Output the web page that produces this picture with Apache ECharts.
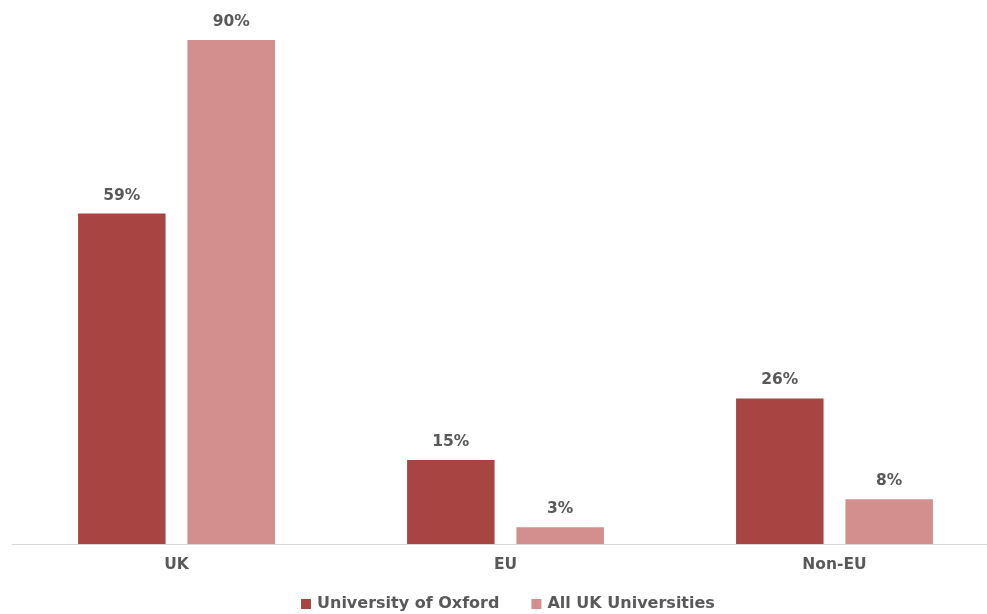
<!DOCTYPE html>
<html>
<head>
<meta charset="utf-8">
<script src="https://cdn.jsdelivr.net/npm/echarts@6/dist/echarts.min.js"></script>
<style>
html,body{margin:0;padding:0;background:#fff;overflow:hidden;width:987px;height:614px;}
#chart{width:999px;height:614px;}
</style>
</head>
<body>
<div id="chart"></div>
<script>
const categories = ['UK', 'EU', 'Non-EU'];
const oxford = [59, 15, 26];
const allUK = [90, 3, 8];
const seriesNames = ['University of Oxford', 'All UK Universities'];

const font = '"DejaVu Sans", Verdana, sans-serif';
const textColor = '#595959';

const chart = echarts.init(document.getElementById('chart'), null, {renderer: 'canvas'});
chart.setOption({
  animation: false,
  backgroundColor: '#ffffff',
  grid: {left: 12, right: 0, top: 40, bottom: 70, containLabel: false},
  legend: {
    left: 296, top: 591,
    itemWidth: 10, itemHeight: 10, itemGap: 32,
    icon: 'rect',
    textStyle: {color: textColor, fontFamily: font, fontWeight: 'bold', fontSize: 16, padding: [0,0,0,1]},
    data: seriesNames
  },
  xAxis: {
    type: 'category',
    data: categories,
    axisLine: {lineStyle: {color: '#d9d9d9', width: 1}},
    axisTick: {show: false},
    axisLabel: {color: textColor, fontFamily: font, fontWeight: 'bold', fontSize: 15.5, margin: 13}
  },
  yAxis: {
    type: 'value', min: 0, max: 90, show: false,
    splitLine: {show: false}
  },
  series: [
    {
      name: seriesNames[0], type: 'bar', data: oxford,
      barWidth: 87.5, barGap: '25%',
      itemStyle: {color: '#a84543'},
      label: {show: true, position: 'top', distance: 10, formatter: '{c}%', color: textColor, fontFamily: font, fontWeight: 'bold', fontSize: 15.5}
    },
    {
      name: seriesNames[1], type: 'bar', data: allUK,
      barWidth: 87.5, barGap: '25%',
      itemStyle: {color: '#d28f8e'},
      label: {show: true, position: 'top', distance: 10, formatter: '{c}%', color: textColor, fontFamily: font, fontWeight: 'bold', fontSize: 15.5}
    }
  ]
});
</script>
</body>
</html>
